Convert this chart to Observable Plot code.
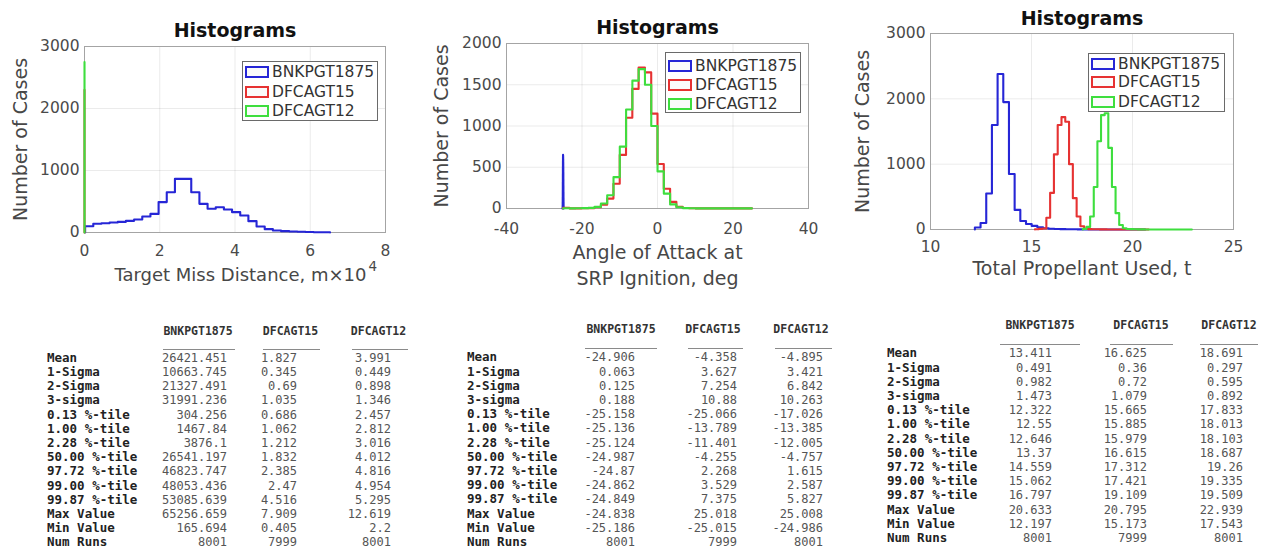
<!DOCTYPE html>
<html>
<head>
<meta charset="utf-8">
<script src="https://cdn.jsdelivr.net/npm/d3@7"></script>
<script src="https://cdn.jsdelivr.net/npm/@observablehq/plot@0.6"></script>
<style>
  html, body { margin: 0; padding: 0; background: #fff; }
  #page { position: relative; width: 1264px; height: 550px; overflow: hidden; font-family: "DejaVu Sans", sans-serif; }
  .chart { position: absolute; top: 0; }
  .legend { position: absolute; border: 1px solid #6a6a6a; background: #fff; box-sizing: border-box; }
  .legrow { position: absolute; left: 2px; display: flex; align-items: center; transform: translateY(-50%); }
  .legicon { width: 24px; height: 12px; box-sizing: border-box; border: 2.5px solid; margin-right: 3px; }
  .legtext { font-size: 15.5px; color: #333; white-space: pre; }
  .cell { position: absolute; white-space: pre; font-family: "DejaVu Sans Mono", monospace; line-height: 1; }
  .lab { font-size: 12.5px; font-weight: bold; color: #222; transform: translateY(-50%); }
  .val { font-size: 12px; color: #555; transform: translate(-100%, -50%); }
  .hdr { font-size: 11.5px; font-weight: bold; color: #333; transform: translate(-50%, -50%); }
  .ul { position: absolute; height: 0; border-top: 1.5px solid #8a8a8a; }
</style>
</head>
<body>
<div id="page"></div>
<script>
// ---------------- data ----------------
const seriesNames = ["BNKPGT1875", "DFCAGT15", "DFCAGT12"];
const seriesColors = ["#2626d6", "#e63232", "#3ede3e"];

const statLabels = ["Mean", "1-Sigma", "2-Sigma", "3-sigma", "0.13 %-tile", "1.00 %-tile", "2.28 %-tile",
  "50.00 %-tile", "97.72 %-tile", "99.00 %-tile", "99.87 %-tile", "Max Value", "Min Value", "Num Runs"];

// Target miss distance, m
const missBNK  = [26421.451, 10663.745, 21327.491, 31991.236, 304.256, 1467.84, 3876.1, 26541.197, 46823.747, 48053.436, 53085.639, 65256.659, 165.694, 8001];
const missDF15 = [1.827, 0.345, 0.69, 1.035, 0.686, 1.062, 1.212, 1.832, 2.385, 2.47, 4.516, 7.909, 0.405, 7999];
const missDF12 = [3.991, 0.449, 0.898, 1.346, 2.457, 2.812, 3.016, 4.012, 4.816, 4.954, 5.295, 12.619, 2.2, 8001];
// Angle of attack at SRP ignition, deg
const aoaBNK  = [-24.906, 0.063, 0.125, 0.188, -25.158, -25.136, -25.124, -24.987, -24.87, -24.862, -24.849, -24.838, -25.186, 8001];
const aoaDF15 = [-4.358, 3.627, 7.254, 10.88, -25.066, -13.789, -11.401, -4.255, 2.268, 3.529, 7.375, 25.018, -25.015, 7999];
const aoaDF12 = [-4.895, 3.421, 6.842, 10.263, -17.026, -13.385, -12.005, -4.757, 1.615, 2.587, 5.827, 25.008, -24.986, 8001];
// Total propellant used, t
const propBNK  = [13.411, 0.491, 0.982, 1.473, 12.322, 12.55, 12.646, 13.37, 14.559, 15.062, 16.797, 20.633, 12.197, 8001];
const propDF15 = [16.625, 0.36, 0.72, 1.079, 15.665, 15.885, 15.979, 16.615, 17.312, 17.421, 19.109, 20.795, 15.173, 7999];
const propDF12 = [18.691, 0.297, 0.595, 0.892, 17.833, 18.013, 18.103, 18.687, 19.26, 19.335, 19.509, 22.939, 17.543, 8001];

// histogram counts (30 bins between Min and Max of each series)
const missCountsBNK  = [100, 140, 150, 161, 172, 188, 210, 258, 300, 490, 650, 865, 865, 650, 462, 382, 408, 371, 328, 274, 183, 97, 54, 32, 22, 16, 11, 8, 5, 3];
const missCountsDF15 = [2, 5, 40, 250, 1000, 2100, 2300, 1500, 600, 120, 30, 15, 8, 6, 5, 4, 3, 2, 2, 1, 1, 1, 1, 1, 0, 0, 0, 0, 0, 1];
const missCountsDF12 = [3, 8, 60, 300, 1300, 2750, 2300, 900, 250, 70, 25, 10, 5, 3, 2, 2, 1, 1, 1, 1, 1, 0, 0, 0, 0, 0, 0, 0, 0, 1];

const aoaCountsBNK  = [2, 3, 5, 10, 20, 40, 80, 140, 220, 320, 420, 510, 580, 630, 650, 640, 620, 600, 560, 510, 440, 360, 280, 200, 130, 80, 45, 25, 12, 5];
const aoaCountsDF15 = [10, 2, 2, 3, 5, 15, 45, 120, 300, 650, 1100, 1450, 1710, 1650, 1150, 540, 240, 80, 20, 6, 3, 2, 2, 1, 1, 1, 1, 1, 1, 2];
const aoaCountsDF12 = [3, 2, 3, 4, 8, 20, 60, 160, 380, 750, 1200, 1550, 1690, 1500, 1000, 450, 180, 50, 15, 5, 3, 2, 1, 1, 1, 1, 1, 1, 1, 2];

const propCountsBNK  = [30, 100, 550, 1600, 2380, 1950, 850, 300, 130, 85, 55, 35, 20, 12, 8, 5, 4, 3, 2, 2, 1, 1, 1, 1, 1, 1, 0, 0, 0, 1];
const propCountsDF15 = [3, 10, 15, 180, 560, 1150, 1600, 1720, 1650, 1000, 480, 200, 50, 12, 6, 4, 3, 2, 2, 1, 1, 1, 1, 1, 0, 0, 0, 0, 0, 1];
const propCountsDF12 = [10, 40, 200, 650, 1350, 1750, 1780, 1250, 650, 250, 70, 20, 8, 5, 3, 2, 2, 1, 1, 1, 1, 1, 1, 0, 0, 0, 0, 0, 0, 1];

const missTicksX = [0, 2, 4, 6, 8], missTicksY = [0, 1000, 2000, 3000];
const aoaTicksX = [-40, -20, 0, 20, 40], aoaTicksY = [0, 500, 1000, 1500, 2000];
const propTicksX = [10, 15, 20, 25], propTicksY = [0, 1000, 2000, 3000];

// ---------------- helpers ----------------
const MIN = 12, MAX = 11;
function stairs(stats, counts, scale) {
  const lo = stats[MIN], hi = stats[MAX], n = counts.length, w = (hi - lo) / n;
  const pts = [{x: lo * scale, y: 0}];
  counts.forEach((c, i) => pts.push({x: (lo + i * w) * scale, y: c}));
  pts.push({x: hi * scale, y: counts[n - 1]}, {x: hi * scale, y: 0});
  return pts;
}

const page = document.getElementById("page");
const LABEL = {fontSize: 19, fill: "#474747", textAnchor: "middle", lineAnchor: "middle"};

function histChart(cfg) {
  const [fl, fr, ft, fb] = cfg.frame;
  const marks = [
    Plot.gridX(cfg.xTicks, {stroke: "#000", strokeOpacity: 0.08}),
    Plot.gridY(cfg.yTicks, {stroke: "#000", strokeOpacity: 0.08}),
    Plot.frame({stroke: "#a4a4a4", strokeWidth: 1}),
    Plot.axisX({ticks: cfg.xTicks, tickSize: 0, tickPadding: cfg.xPad, fontSize: 15.5, tickFormat: d => String(d), label: null}),
    Plot.axisY({ticks: cfg.yTicks, tickSize: 0, tickPadding: 5, fontSize: 15.5, tickFormat: d => String(d), label: null}),
  ];
  cfg.series.forEach((s, i) => {
    marks.push(Plot.line(stairs(s.stats, s.counts, cfg.scale), {x: "x", y: "y", curve: "step-after", stroke: seriesColors[i], strokeWidth: 2.1}));
  });
  marks.push(Plot.text(["Histograms"], {frameAnchor: "top", dy: cfg.titleDy, fontSize: 19, fontWeight: "bold", fill: "#111", textAnchor: "middle", lineAnchor: "middle"}));
  marks.push(Plot.text(["Number of Cases"], {...LABEL, frameAnchor: "left", rotate: -90, dx: cfg.yLabDx}));
  cfg.xLabels.forEach(([t, dy, opts]) => marks.push(Plot.text([t], {...LABEL, frameAnchor: "bottom", dy, ...(opts || {})})));
  (cfg.extra || []).forEach(m => marks.push(m));
  const svg = Plot.plot({
    width: cfg.W, height: cfg.H,
    marginLeft: fl - cfg.L, marginRight: cfg.L + cfg.W - fr, marginTop: ft, marginBottom: cfg.H - fb,
    x: {domain: cfg.xDomain, label: null},
    y: {domain: cfg.yDomain, label: null},
    style: {fontFamily: "DejaVu Sans", color: "#4a4a4a", background: "transparent", overflow: "visible"},
    marks
  });
  svg.classList.add("chart");
  svg.style.left = cfg.L + "px";
  page.appendChild(svg);

  const lg = document.createElement("div");
  lg.className = "legend";
  const [lx, ly, lw, lh] = cfg.legend;
  Object.assign(lg.style, {left: lx + "px", top: ly + "px", width: lw + "px", height: lh + "px"});
  seriesNames.forEach((name, i) => {
    const row = document.createElement("div");
    row.className = "legrow";
    row.style.top = (cfg.legRows[i] - ly - 1) + "px";
    const ic = document.createElement("span");
    ic.className = "legicon";
    ic.style.borderColor = seriesColors[i];
    ic.style.background = "#fbfbfb";
    const tx = document.createElement("span");
    tx.className = "legtext";
    tx.textContent = name;
    row.appendChild(ic); row.appendChild(tx);
    lg.appendChild(row);
  });
  page.appendChild(lg);
}

histChart({
  L: 0, W: 420, H: 300, frame: [84, 385, 46, 232], scale: 1e-4,
  xDomain: [0, 8], yDomain: [0, 3000], xTicks: missTicksX, yTicks: missTicksY, xPad: 12,
  series: [{stats: missBNK, counts: missCountsBNK}, {stats: missDF15, counts: missCountsDF15}, {stats: missDF12, counts: missCountsDF12}],
  titleDy: -16, yLabDx: -64,
  xLabels: [["Target Miss Distance, m×10", 43, {frameAnchor: "bottom-right", textAnchor: "end", dx: -19, fontSize: 18}]],
  extra: [
    Plot.text(["4"], {frameAnchor: "bottom-right", textAnchor: "start", lineAnchor: "middle", dx: -17, dy: 34, fontSize: 13.5, fill: "#474747"})
  ],
  legend: [242, 61, 136, 60], legRows: [72, 91.5, 111]
});

histChart({
  L: 420, W: 420, H: 300, frame: [506, 808, 43, 208], scale: 1,
  xDomain: [-40, 40], yDomain: [0, 2000], xTicks: aoaTicksX, yTicks: aoaTicksY, xPad: 14,
  series: [{stats: aoaBNK, counts: aoaCountsBNK}, {stats: aoaDF15, counts: aoaCountsDF15}, {stats: aoaDF12, counts: aoaCountsDF12}],
  titleDy: -16, yLabDx: -65,
  xLabels: [["Angle of Attack at", 44], ["SRP Ignition, deg", 70]],
  legend: [665, 52, 136, 61], legRows: [66, 85, 103.5]
});

histChart({
  L: 840, W: 424, H: 300, frame: [930, 1233, 33, 229], scale: 1,
  xDomain: [10, 25], yDomain: [0, 3000], xTicks: propTicksX, yTicks: propTicksY, xPad: 11,
  series: [{stats: propBNK, counts: propCountsBNK}, {stats: propDF15, counts: propCountsDF15}, {stats: propDF12, counts: propCountsDF12}],
  titleDy: -15, yLabDx: -68,
  xLabels: [["Total Propellant Used, t", 39]],
  legend: [1088, 53, 137, 59], legRows: [63.5, 82, 101.5]
});

// ---------------- tables ----------------
function addCell(cls, text, x, y) {
  const d = document.createElement("div");
  d.className = "cell " + cls;
  d.textContent = text;
  d.style.left = x + "px"; d.style.top = y + "px";
  page.appendChild(d);
}
function table(cfg, cols) {
  const pitch = 14.2;
  statLabels.forEach((lab, r) => addCell("lab", lab, cfg.labelX, cfg.rowY0 + r * pitch));
  cols.forEach((vals, c) => {
    const g = cfg.cols[c];
    addCell("hdr", seriesNames[c], g.hc, cfg.headerY);
    const u = document.createElement("div");
    u.className = "ul";
    Object.assign(u.style, {left: g.ul[0] + "px", top: cfg.ulY + "px", width: (g.ul[1] - g.ul[0]) + "px"});
    page.appendChild(u);
    vals.forEach((v, r) => addCell("val", String(v), g.vr, cfg.rowY0 + r * pitch));
  });
}
table({labelX: 47, rowY0: 357.8, headerY: 331.7, ulY: 348.5,
  cols: [{hc: 198, ul: [163, 235], vr: 227}, {hc: 290.5, ul: [263, 320], vr: 297}, {hc: 378.5, ul: [352, 408], vr: 391}]},
  [missBNK, missDF15, missDF12]);
table({labelX: 467, rowY0: 357.4, headerY: 330, ulY: 347.5,
  cols: [{hc: 621, ul: [585, 657], vr: 635}, {hc: 713, ul: [688, 743], vr: 737}, {hc: 801, ul: [775, 832], vr: 823}]},
  [aoaBNK, aoaDF15, aoaDF12]);
table({labelX: 887, rowY0: 353.3, headerY: 326, ulY: 344.2,
  cols: [{hc: 1040, ul: [1000, 1080], vr: 1052}, {hc: 1141, ul: [1110, 1173], vr: 1147}, {hc: 1229, ul: [1200, 1258], vr: 1243}]},
  [propBNK, propDF15, propDF12]);
</script>
</body>
</html>
